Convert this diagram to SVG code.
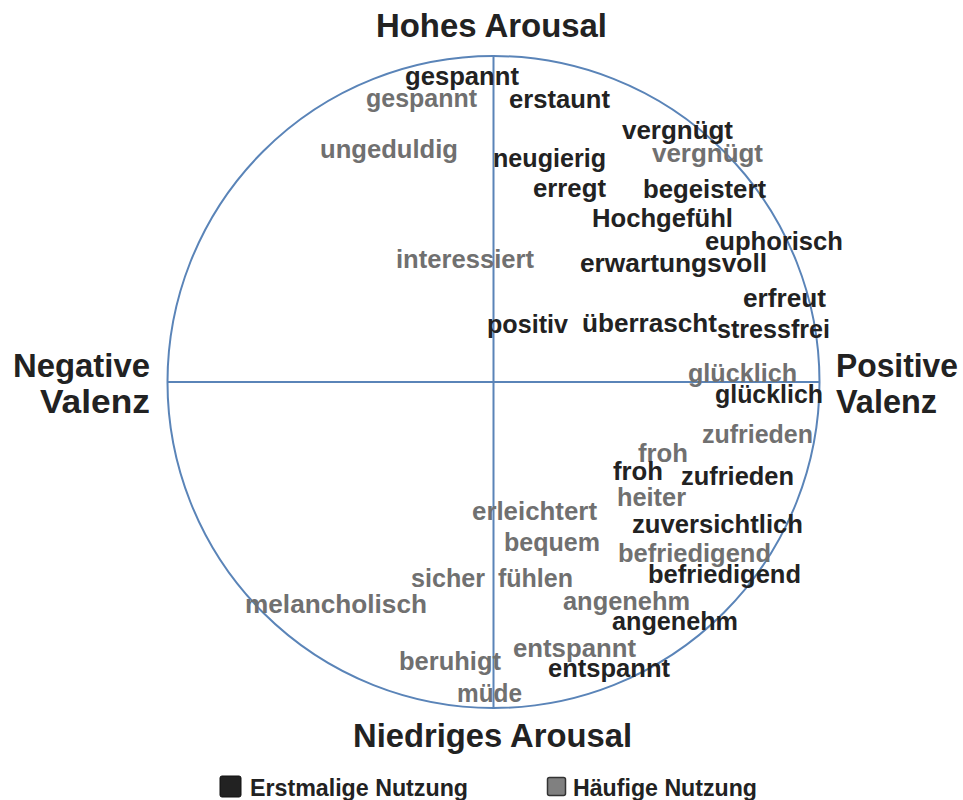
<svg xmlns="http://www.w3.org/2000/svg" width="963" height="800" viewBox="0 0 963 800">
  <style>
    text { font-family: "Liberation Sans", Arial, sans-serif; font-weight: bold; }
    .axis { fill: none; stroke: #5a84b8; stroke-width: 2; }
    .title { font-size: 33px; fill: #222; }
    .first { font-size: 25px; fill: #222; }
    .freq { font-size: 25px; fill: #707070; }
    .legend { font-size: 24px; fill: #222; }
  </style>
  <rect width="963" height="800" fill="#fff"/>

  <!-- Valence/arousal circle with axes -->
  <g id="axes">
    <circle class="axis" cx="493.5" cy="382" r="326"/>
    <line class="axis" x1="493.5" y1="56" x2="493.5" y2="708"/>
    <line class="axis" x1="167.5" y1="382" x2="819.5" y2="382"/>
  </g>

  <!-- Axis labels -->
  <g id="axis-labels">
    <text class="title" x="376" y="37" textLength="231" lengthAdjust="spacingAndGlyphs">Hohes Arousal</text>
    <text class="title" x="353" y="747" textLength="279" lengthAdjust="spacingAndGlyphs">Niedriges Arousal</text>
    <text class="title" x="150" y="377" text-anchor="end" textLength="137" lengthAdjust="spacingAndGlyphs">Negative</text>
    <text class="title" x="150" y="413" text-anchor="end" textLength="110" lengthAdjust="spacingAndGlyphs">Valenz</text>
    <text class="title" x="836" y="377" textLength="122" lengthAdjust="spacingAndGlyphs">Positive</text>
    <text class="title" x="836" y="413" textLength="101" lengthAdjust="spacingAndGlyphs">Valenz</text>
  </g>

  <!-- Words: frequent use (grey) -->
  <g id="frequent-use">
    <text class="freq" x="366" y="107" textLength="111" lengthAdjust="spacingAndGlyphs">gespannt</text>
    <text class="freq" x="320" y="158" textLength="138" lengthAdjust="spacingAndGlyphs">ungeduldig</text>
    <text class="freq" x="652" y="162" textLength="111" lengthAdjust="spacingAndGlyphs">vergnügt</text>
    <text class="freq" x="396" y="268" textLength="138" lengthAdjust="spacingAndGlyphs">interessiert</text>
    <text class="freq" x="688" y="382" textLength="109" lengthAdjust="spacingAndGlyphs">glücklich</text>
    <text class="freq" x="702" y="443" textLength="111" lengthAdjust="spacingAndGlyphs">zufrieden</text>
    <text class="freq" x="638" y="462" textLength="50" lengthAdjust="spacingAndGlyphs">froh</text>
    <text class="freq" x="617" y="506" textLength="69" lengthAdjust="spacingAndGlyphs">heiter</text>
    <text class="freq" x="472" y="520" textLength="125" lengthAdjust="spacingAndGlyphs">erleichtert</text>
    <text class="freq" x="504" y="551" textLength="96" lengthAdjust="spacingAndGlyphs">bequem</text>
    <text class="freq" x="618" y="562" textLength="153" lengthAdjust="spacingAndGlyphs">befriedigend</text>
    <text class="freq" x="411" y="587" textLength="74" lengthAdjust="spacingAndGlyphs">sicher</text>
    <text class="freq" x="498" y="587" textLength="75" lengthAdjust="spacingAndGlyphs">fühlen</text>
    <text class="freq" x="245" y="613" textLength="182" lengthAdjust="spacingAndGlyphs">melancholisch</text>
    <text class="freq" x="563" y="610" textLength="127" lengthAdjust="spacingAndGlyphs">angenehm</text>
    <text class="freq" x="513" y="657" textLength="123" lengthAdjust="spacingAndGlyphs">entspannt</text>
    <text class="freq" x="399" y="670" textLength="102" lengthAdjust="spacingAndGlyphs">beruhigt</text>
    <text class="freq" x="457" y="702" textLength="65" lengthAdjust="spacingAndGlyphs">müde</text>
  </g>

  <!-- Words: first use (dark) -->
  <g id="first-use">
    <text class="first" x="405" y="85" textLength="114" lengthAdjust="spacingAndGlyphs">gespannt</text>
    <text class="first" x="509" y="108" textLength="101" lengthAdjust="spacingAndGlyphs">erstaunt</text>
    <text class="first" x="622" y="139" textLength="111" lengthAdjust="spacingAndGlyphs">vergnügt</text>
    <text class="first" x="493" y="167" textLength="113" lengthAdjust="spacingAndGlyphs">neugierig</text>
    <text class="first" x="533" y="197" textLength="73" lengthAdjust="spacingAndGlyphs">erregt</text>
    <text class="first" x="643" y="198" textLength="123" lengthAdjust="spacingAndGlyphs">begeistert</text>
    <text class="first" x="592" y="227" textLength="141" lengthAdjust="spacingAndGlyphs">Hochgefühl</text>
    <text class="first" x="705" y="250" textLength="138" lengthAdjust="spacingAndGlyphs">euphorisch</text>
    <text class="first" x="580" y="272" textLength="187" lengthAdjust="spacingAndGlyphs">erwartungsvoll</text>
    <text class="first" x="743" y="307" textLength="83" lengthAdjust="spacingAndGlyphs">erfreut</text>
    <text class="first" x="487" y="333" textLength="81" lengthAdjust="spacingAndGlyphs">positiv</text>
    <text class="first" x="582" y="332" textLength="135" lengthAdjust="spacingAndGlyphs">überrascht</text>
    <text class="first" x="717" y="338" textLength="113" lengthAdjust="spacingAndGlyphs">stressfrei</text>
    <text class="first" x="715" y="403" textLength="108" lengthAdjust="spacingAndGlyphs">glücklich</text>
    <text class="first" x="613" y="480" textLength="50" lengthAdjust="spacingAndGlyphs">froh</text>
    <text class="first" x="681" y="485" textLength="113" lengthAdjust="spacingAndGlyphs">zufrieden</text>
    <text class="first" x="632" y="533" textLength="171" lengthAdjust="spacingAndGlyphs">zuversichtlich</text>
    <text class="first" x="648" y="583" textLength="153" lengthAdjust="spacingAndGlyphs">befriedigend</text>
    <text class="first" x="612" y="630" textLength="126" lengthAdjust="spacingAndGlyphs">angenehm</text>
    <text class="first" x="548" y="677" textLength="122" lengthAdjust="spacingAndGlyphs">entspannt</text>
  </g>

  <!-- Legend -->
  <g id="legend">
    <rect x="220" y="776" width="21" height="21" rx="2" fill="#222" stroke="#111" stroke-width="1"/>
    <text class="legend" x="250" y="796" textLength="218" lengthAdjust="spacingAndGlyphs">Erstmalige Nutzung</text>
    <rect x="547.5" y="777.5" width="18" height="18" rx="2" fill="#808080" stroke="#333" stroke-width="1.5"/>
    <text class="legend" x="573" y="796" textLength="184" lengthAdjust="spacingAndGlyphs">Häufige Nutzung</text>
  </g>
</svg>
